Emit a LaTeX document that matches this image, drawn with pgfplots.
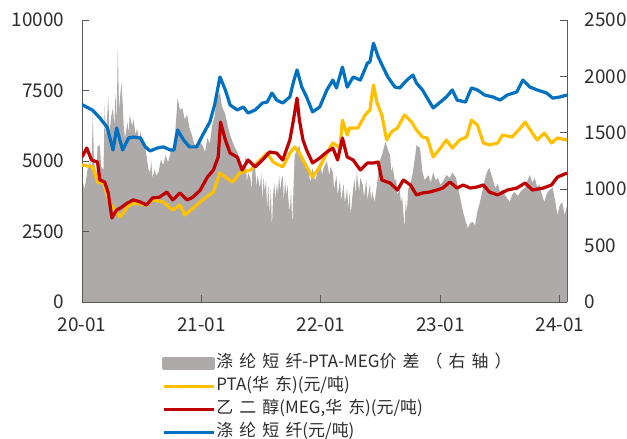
\documentclass[border=0pt]{standalone}
\usepackage{fontspec}
\setmainfont{Noto Sans CJK SC}
\usepackage{pgfplots}
\pgfplotsset{compat=1.18}

\definecolor{spreadgray}{RGB}{174,170,170}
\definecolor{ptayellow}{RGB}{255,192,0}
\definecolor{megred}{RGB}{192,0,0}
\definecolor{psfblue}{RGB}{0,112,192}
\definecolor{axisgray}{RGB}{89,89,89}
\definecolor{txt}{RGB}{45,45,45}

% wider spacing for the Chinese runs in the legend
\newcommand\cjk[1]{{\addfontfeature{LetterSpace=36}#1}}

\pgfplotsset{
  base/.style={
    at={(82bp,137bp)}, anchor=south west,
    scale only axis, width=485bp, height=282bp,
    xmin=0, xmax=4.06,
    axis line style={axisgray, line width=0.9bp, -},
    tick style={axisgray, line width=0.9bp},
    tick align=inside, major tick length=7bp,
    ticklabel style={font=\fontsize{19}{19}\selectfont, text=txt},
    /pgf/number format/assume math mode=true,
    /pgf/number format/1000 sep={},
    scaled y ticks=false,
  },
}

\begin{document}
\begin{tikzpicture}
\path[use as bounding box] (0,0) rectangle (627bp,439bp);

% spread, right axis
\begin{axis}[base,
  ymin=0, ymax=2500,
  axis x line=none, axis y line*=right,
  ytick={0,500,1000,1500,2000,2500},
  yticklabel style={xshift=14bp},
]
\addplot[fill=spreadgray, draw=none] coordinates {
(0.00,1100) (0.02,1000) (0.03,1060) (0.05,1200) (0.07,1240) (0.08,1150) (0.09,1685) (0.10,1250)
(0.12,1125) (0.13,1380) (0.15,1390) (0.16,1200) (0.18,1175) (0.19,1745) (0.20,1450) (0.22,1820)
(0.23,1500) (0.245,1650) (0.26,1720) (0.27,1550) (0.28,1850) (0.29,1600) (0.30,2260) (0.31,1700)
(0.33,1950) (0.34,1770) (0.35,1550) (0.36,1450) (0.38,1595) (0.39,1500) (0.40,1660) (0.42,1560)
(0.43,1625) (0.45,1480) (0.46,1540) (0.48,1440) (0.49,1510) (0.51,1420) (0.53,1360) (0.54,1300)
(0.555,1180) (0.57,1150) (0.58,1250) (0.59,1100) (0.61,1180) (0.62,1120) (0.64,1150) (0.66,1260)
(0.68,1215) (0.70,1300) (0.72,1240) (0.74,1320) (0.76,1365) (0.78,1500) (0.79,1650) (0.80,1810)
(0.82,1700) (0.84,1720) (0.86,1620) (0.88,1660) (0.90,1540) (0.92,1480) (0.94,1400) (0.96,1365)
(0.98,1420) (1.01,1390) (1.03,1330) (1.05,1455) (1.07,1400) (1.09,1570) (1.11,1650) (1.13,1810)
(1.155,1860) (1.17,1740) (1.20,1660) (1.22,1560) (1.24,1480) (1.26,1420) (1.28,1370) (1.30,1330)
(1.32,1250) (1.34,1215) (1.35,1120) (1.37,1300) (1.38,1060) (1.39,1150) (1.41,1100) (1.42,1000)
(1.43,1240) (1.45,1190) (1.46,1020) (1.47,1120) (1.49,1010) (1.50,1150) (1.51,900) (1.52,1100)
(1.53,980) (1.54,1080) (1.55,820) (1.56,1050) (1.57,770) (1.58,1000) (1.59,655) (1.60,950)
(1.61,1060) (1.62,900) (1.63,1050) (1.64,960) (1.65,1130) (1.66,980) (1.67,1080) (1.68,1120)
(1.69,900) (1.70,1080) (1.71,950) (1.72,1040) (1.73,880) (1.74,800) (1.75,1000) (1.76,665)
(1.77,1000) (1.78,1300) (1.80,1350) (1.82,1390) (1.84,1250) (1.85,1300) (1.87,1180) (1.88,1240)
(1.90,1150) (1.91,1060) (1.93,1190) (1.95,1080) (1.96,1100) (1.99,1240) (2.01,1130) (2.02,1180)
(2.05,1250) (2.07,1120) (2.08,1200) (2.10,1150) (2.11,1000) (2.13,1120) (2.14,950) (2.16,1080)
(2.17,900) (2.19,1050) (2.20,880) (2.22,1000) (2.23,820) (2.24,980) (2.25,770) (2.26,900)
(2.28,1100) (2.29,950) (2.30,1150) (2.32,980) (2.33,1100) (2.35,1040) (2.36,930) (2.38,1080)
(2.39,900) (2.41,1050) (2.42,900) (2.43,980) (2.45,885) (2.47,1050) (2.49,1240) (2.51,1300)
(2.54,1420) (2.56,1350) (2.58,1300) (2.59,1150) (2.60,1200) (2.62,1065) (2.63,1100) (2.64,950)
(2.66,1000) (2.67,880) (2.68,940) (2.70,655) (2.71,900) (2.72,800) (2.73,1000) (2.75,1050)
(2.77,1150) (2.79,1300) (2.80,1390) (2.83,1365) (2.85,1150) (2.87,1080) (2.90,1125) (2.92,1060)
(2.94,1150) (2.96,1080) (2.98,1100) (3.00,1040) (3.02,1065) (3.05,1125) (3.08,1100) (3.10,1150)
(3.13,1100) (3.15,1010) (3.17,900) (3.19,800) (3.21,720) (3.23,655) (3.25,700) (3.27,710)
(3.29,680) (3.31,800) (3.33,880) (3.35,975) (3.37,1080) (3.39,1150) (3.41,1190) (3.44,1080)
(3.46,1010) (3.48,1050) (3.50,975) (3.52,1000) (3.54,950) (3.56,920) (3.58,885) (3.60,950)
(3.62,975) (3.65,940) (3.67,975) (3.69,1000) (3.71,1010) (3.73,1080) (3.75,1125) (3.77,1060)
(3.79,1100) (3.81,1020) (3.83,1040) (3.85,950) (3.87,885) (3.89,960) (3.90,975) (3.92,1000)
(3.94,1010) (3.96,900) (3.98,770) (4.00,860) (4.02,885) (4.04,770) (4.06,850)
} \closedcycle;
\end{axis}

% prices, left axis
\begin{axis}[base,
  ymin=0, ymax=10000,
  axis x line*=bottom, axis y line*=left,
  xtick={0,1,2,3,4}, xticklabels={20-01,21-01,22-01,23-01,24-01},
  ytick={0,2500,5000,7500,10000},
  yticklabel style={xshift=-14bp},
  xticklabel style={yshift=-12bp},
  every axis plot/.append style={line width=3.2bp, line join=round},
  legend style={at={(0.165,-0.186)}, anchor=north west, draw=none, fill=none,
    inner sep=0pt, row sep=5.5bp,
    font=\fontsize{17}{17}\selectfont,
    nodes={inner sep=1bp, text height=12bp, text depth=3.5bp, text=txt}},
  legend cell align=left,
  legend image code/.code={\draw[#1] (0bp,0bp) -- (50bp,0bp);},
]
\addlegendimage{legend image code/.code={\fill[spreadgray] (0bp,-5bp) rectangle (50bp,5bp);}}
\addlegendentry{\cjk{涤纶短纤}-PTA-MEG\cjk{价差（右轴）}}

\addplot[ptayellow] coordinates {
(0.00,4860) (0.09,4790) (0.13,4255) (0.18,4220) (0.23,3510) (0.32,3015) (0.38,3370) (0.43,3510)
(0.54,3440) (0.59,3620) (0.68,3545) (0.76,3260) (0.82,3440) (0.86,3085) (0.93,3330) (1.01,3620)
(1.10,3900) (1.155,4575) (1.21,4400) (1.26,4255) (1.32,4575) (1.41,4680) (1.49,5035) (1.55,5280)
(1.60,4965) (1.68,4790) (1.74,5280) (1.78,5500) (1.82,5280) (1.88,4790) (1.93,4430) (1.99,4790)
(2.05,5280) (2.10,5640) (2.16,5460) (2.18,6450) (2.22,5920) (2.24,6170) (2.31,6170) (2.37,6630)
(2.41,6810) (2.44,7695) (2.47,7055) (2.51,6630) (2.55,5745) (2.59,6030) (2.64,6170) (2.70,6630)
(2.76,6380) (2.80,6100) (2.85,5850) (2.89,5815) (2.94,5140) (3.00,5460) (3.05,5745) (3.10,5460)
(3.16,5745) (3.22,5850) (3.26,6450) (3.31,6275) (3.36,5640) (3.41,5570) (3.48,5640) (3.52,5920)
(3.60,5850) (3.67,6170) (3.71,6380) (3.77,5990) (3.81,5745) (3.87,5990) (3.93,5640) (3.98,5815)
(4.06,5745)
};
\addlegendentry{PTA(\cjk{华东})(\cjk{元}/\cjk{吨})}

\addplot[megred] coordinates {
(0.00,5140) (0.04,5460) (0.08,5035) (0.13,4965) (0.15,4325) (0.19,4255) (0.22,3865) (0.25,2980)
(0.29,3260) (0.335,3370) (0.38,3510) (0.43,3620) (0.49,3545) (0.54,3440) (0.59,3690) (0.65,3720)
(0.71,3900) (0.76,3620) (0.82,3865) (0.88,3620) (0.93,3720) (0.99,3970) (1.05,4430) (1.10,4680)
(1.14,5140) (1.16,6380) (1.20,5745) (1.24,5280) (1.30,5140) (1.34,4680) (1.39,5035) (1.45,4790)
(1.51,5035) (1.57,5320) (1.63,5280) (1.68,5035) (1.74,5745) (1.77,6450) (1.80,7230) (1.82,6450)
(1.85,5745) (1.88,5390) (1.93,4930) (1.99,5105) (2.05,5320) (2.10,5460) (2.14,5035) (2.18,5815)
(2.22,5140) (2.27,5035) (2.33,4680) (2.39,4930) (2.44,4930) (2.48,4965) (2.51,4325) (2.58,4220)
(2.64,3970) (2.69,4325) (2.75,4150) (2.80,3795) (2.85,3865) (2.91,3900) (2.97,3970) (3.02,4040)
(3.08,4255) (3.14,4040) (3.19,4150) (3.25,4040) (3.31,4080) (3.36,4150) (3.41,3900) (3.48,3795)
(3.56,3970) (3.64,4040) (3.71,4220) (3.77,3970) (3.86,4040) (3.93,4150) (3.98,4430) (4.06,4575)
};
\addlegendentry{\cjk{乙二醇}(MEG,\cjk{华东})(\cjk{元}/\cjk{吨})}

\addplot[psfblue] coordinates {
(0.00,7000) (0.09,6800) (0.15,6520) (0.21,6200) (0.26,5390) (0.29,6170) (0.34,5390) (0.39,5815)
(0.43,5850) (0.49,5815) (0.53,5500) (0.57,5355) (0.63,5460) (0.68,5500) (0.74,5390) (0.77,5390)
(0.80,6100) (0.85,5745) (0.90,5500) (0.96,5500) (1.01,5920) (1.07,6380) (1.11,6985) (1.155,7980)
(1.20,7520) (1.24,6985) (1.30,6810) (1.35,6915) (1.39,6700) (1.45,6810) (1.51,7055) (1.55,7090)
(1.59,7410) (1.63,7160) (1.68,7055) (1.74,7270) (1.77,7800) (1.80,8230) (1.84,7620) (1.88,7270)
(1.93,6740) (1.99,6915) (2.05,7520) (2.10,7870) (2.13,7590) (2.18,8330) (2.22,7620) (2.27,7980)
(2.33,7870) (2.39,8475) (2.41,8510) (2.44,9180) (2.48,8690) (2.52,8330) (2.56,7980) (2.62,7620)
(2.66,7590) (2.72,7870) (2.77,8050) (2.80,7765) (2.85,7520) (2.90,7160) (2.94,6880) (3.00,7090)
(3.05,7270) (3.10,7520) (3.14,7160) (3.21,7090) (3.26,7590) (3.31,7520) (3.37,7340) (3.44,7270)
(3.50,7160) (3.56,7340) (3.64,7450) (3.69,7870) (3.75,7620) (3.81,7520) (3.89,7410) (3.94,7230)
(4.00,7270) (4.06,7340)
};
\addlegendentry{\cjk{涤纶短纤}(\cjk{元}/\cjk{吨})}
\end{axis}
\end{tikzpicture}
\end{document}
